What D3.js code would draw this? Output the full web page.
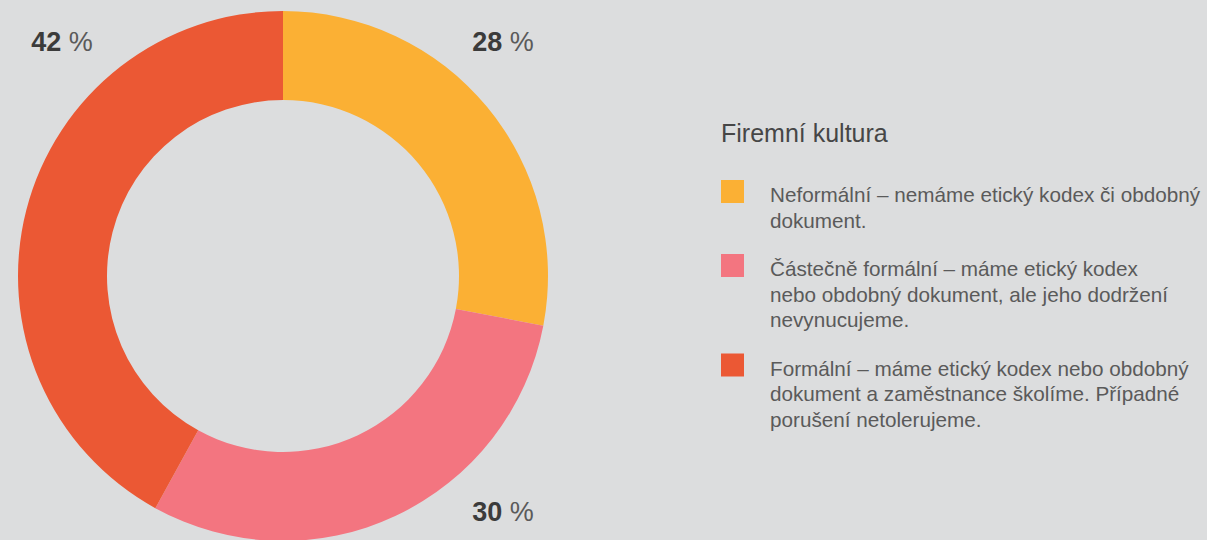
<!DOCTYPE html>
<html>
<head>
<meta charset="utf-8">
<script src="https://cdn.jsdelivr.net/npm/d3@7"></script>
<style>
  html, body { margin: 0; padding: 0; background: #dcddde; }
  svg { display: block; font-family: "Liberation Sans", Arial, Helvetica, sans-serif; }
</style>
</head>
<body>
<div id="container"></div>
<script>
// chart data
var categories = ['Neformální', 'Částečně formální', 'Formální'];
var values = [28, 30, 42];
var colors = ['#fbb034', '#f37580', '#eb5834'];
var title = 'Firemní kultura';
var legendLines = [
    ['Neformální – nemáme etický kodex či obdobný', 'dokument.'],
    ['Částečně formální – máme etický kodex', 'nebo obdobný dokument, ale jeho dodržení', 'nevynucujeme.'],
    ['Formální – máme etický kodex nebo obdobný', 'dokument a zaměstnance školíme. Případné', 'porušení netolerujeme.']
];

var w = 1207;
var h = 540;
var cx = 283, cy = 276;
var outerR = 265, innerR = 176;

var svg = d3.select('#container')
    .append('svg')
    .attr('width', w)
    .attr('height', h)
    .style('background', '#dcddde');

// donut
var pie = d3.pie()
    .sort(null)
    .value(function(d) { return d; });

var arc = d3.arc()
    .innerRadius(innerR)
    .outerRadius(outerR);

var arcs = pie(values);

var donut = svg.append('g')
    .attr('transform', 'translate(' + cx + ',' + cy + ')');

donut.selectAll('path')
    .data(arcs)
    .enter()
    .append('path')
    .attr('d', arc)
    .attr('fill', function(d, i) { return colors[i]; });

// percent labels go to the corner nearest each slice
var labels = svg.append('g')
    .selectAll('text')
    .data(arcs)
    .enter()
    .append('text')
    .attr('text-anchor', 'middle')
    .attr('x', function(d) {
        var a = (d.startAngle + d.endAngle) / 2;
        return cx + (Math.sin(a) >= 0 ? 220 : -221);
    })
    .attr('y', function(d) {
        var a = (d.startAngle + d.endAngle) / 2;
        return Math.cos(a) >= 0 ? cy - 225 : cy + 245;
    })
    .style('font-size', '27px');

labels.append('tspan')
    .style('font-weight', 'bold')
    .attr('fill', '#3b3b3b')
    .text(function(d) { return d.data; });

labels.append('tspan')
    .attr('fill', '#5a5a5a')
    .style('font-weight', 300)
    .text(' %');

// legend
var legend = svg.append('g')
    .attr('transform', 'translate(721,0)');

legend.append('text')
    .attr('x', 0)
    .attr('y', 142)
    .attr('fill', '#464646')
    .style('font-size', '25px')
    .text(title);

var lineH = 25.5;
var rowY = 180;
legendLines.forEach(function(lines, i) {
    var row = legend.append('g')
        .attr('transform', 'translate(0,' + rowY + ')');

    row.append('rect')
        .attr('width', 23)
        .attr('height', 23)
        .attr('fill', colors[i]);

    row.append('text')
        .attr('fill', '#5a5a5a')
        .style('font-size', '20.7px')
        .selectAll('tspan')
        .data(lines)
        .enter()
        .append('tspan')
        .attr('x', 49)
        .attr('y', function(d, j) { return 22 + j * lineH; })
        .text(function(d) { return d; });

    rowY += lines.length * lineH + 23;
});
</script>
</body>
</html>
